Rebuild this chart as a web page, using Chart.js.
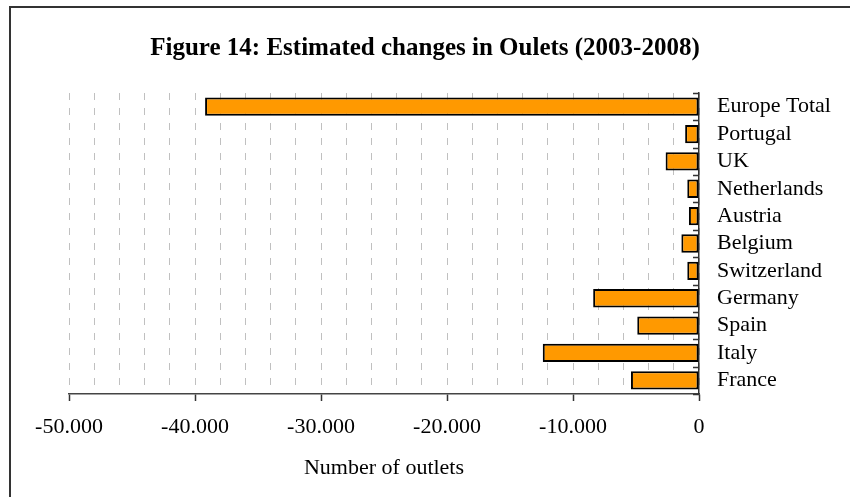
<!DOCTYPE html>
<html>
<head>
<meta charset="utf-8">
<script src="https://cdn.jsdelivr.net/npm/chart.js@4/dist/chart.umd.min.js"></script>
<style>
  html, body { margin: 0; padding: 0; background: #fff; }
  #wrap { position: relative; width: 850px; height: 497px; }
</style>
</head>
<body>
<div id="wrap"><canvas id="outletChart"></canvas></div>
<script>
(function() {

    const countries = ['Europe Total', 'Portugal', 'UK', 'Netherlands', 'Austria', 'Belgium',
                       'Switzerland', 'Germany', 'Spain', 'Italy', 'France'];
    const outletChange = [-39200, -1100, -2650, -930, -800, -1400, -930, -8400, -4900, -12400, -5400];
    const axisMin = -50000;
    const axisMax = 0;

    const serif = 'Liberation Serif, Times New Roman, serif';

    // frame around the figure (only left/top edges fall inside the canvas)
    const framePlugin = {
        id: 'frame',
        afterDraw(chart) {
            const ctx = chart.ctx;
            ctx.save();
            ctx.strokeStyle = '#333';
            ctx.lineWidth = 2;
            ctx.strokeRect(10, 7, 1000, 1000);
            ctx.restore();
        }
    };

    // short category ticks pointing into the plot from the value-zero axis
    const innerTicks = {
        id: 'innerTicks',
        afterDatasetsDraw(chart) {
            const y = chart.scales.y;
            const x0 = chart.scales.x.getPixelForValue(0);
            const ctx = chart.ctx;
            ctx.save();
            ctx.strokeStyle = '#333';
            ctx.lineWidth = 1.5;
            ctx.beginPath();
            for (let i = 0; i <= countries.length; i++) {
                const py = Math.round(y.getPixelForValue(i - 0.5)) + 0.5;
                ctx.moveTo(x0 - 6, py);
                ctx.lineTo(x0, py);
            }
            ctx.stroke();
            ctx.restore();
        }
    };

    new Chart(document.getElementById('outletChart'), {
        type: 'bar',
        data: {
            labels: countries,
            datasets: [{
                data: outletChange,
                yAxisID: 'y',
                backgroundColor: '#ff9900',
                borderColor: '#000',
                borderWidth: 2,
                borderSkipped: false,
                categoryPercentage: 1,
                barPercentage: 0.67
            }]
        },
        options: {
            indexAxis: 'y',
            responsive: true,
            maintainAspectRatio: false,
            animation: false,
            layout: { padding: 0 },
            plugins: {
                legend: { display: false },
                tooltip: { enabled: false },
                title: {
                    display: true,
                    text: 'Figure 14: Estimated changes in Oulets (2003-2008)',
                    color: '#000',
                    font: { family: serif, size: 25, weight: 'bold' },
                    padding: { top: 34, bottom: 29 }
                }
            },
            scales: {
                x: {
                    min: axisMin,
                    max: axisMax,
                    afterFit(scale) { scale.height = 103; },
                    // border.dash also sets the dash of the grid lines in v4
                    border: { display: true, color: '#444', width: 1.5, dash: [7, 8] },
                    grid: {
                        color: '#c0c0c0',
                        lineWidth: 1,
                        tickLength: 7,
                        tickColor: (c) => (c.tick && c.tick.value % 10000 === 0) ? '#333' : 'rgba(0,0,0,0)',
                        tickWidth: 1.5
                    },
                    ticks: {
                        stepSize: 2000,
                        autoSkip: false,
                        maxRotation: 0,
                        padding: 13,
                        color: '#000',
                        font: { family: serif, size: 22 },
                        callback: (v) => {
                            if (v % 10000 !== 0) return '';
                            return v === 0 ? '0' : v.toLocaleString('de-DE');
                        }
                    },
                    title: {
                        display: true,
                        text: 'Number of outlets',
                        color: '#000',
                        font: { family: serif, size: 22 },
                        padding: { top: 0, bottom: 16 }
                    }
                },
                y: {
                    position: 'right',
                    afterFit(scale) { scale.width = 151; },
                    border: { display: true, color: '#333', width: 1.5 },
                    grid: { drawOnChartArea: false, drawTicks: false },
                    ticks: {
                        autoSkip: false,
                        padding: 18,
                        color: '#000',
                        font: { family: serif, size: 22 }
                    }
                },
                // empty left margin so the title stays centred on the whole figure
                leftGap: {
                    type: 'category',
                    axis: 'y',
                    position: 'left',
                    afterFit(scale) { scale.width = 69; },
                    border: { display: false },
                    grid: { display: false, drawTicks: false },
                    ticks: { display: false }
                }
            }
        },
        plugins: [framePlugin, innerTicks]
    });

})();
</script>
</body>
</html>
